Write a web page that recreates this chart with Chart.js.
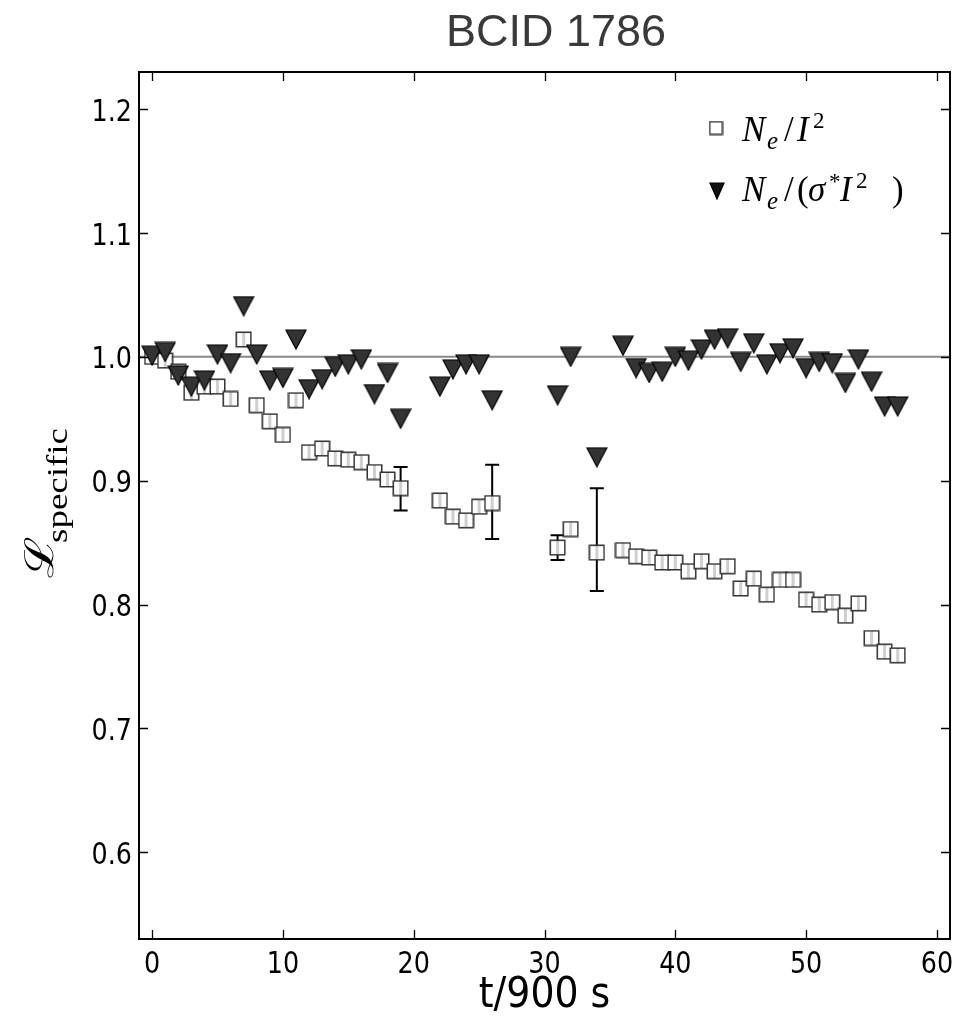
<!DOCTYPE html>
<html>
<head>
<meta charset="utf-8">
<script src="https://cdn.jsdelivr.net/npm/chart.js@4"></script>
<style>
  body { margin: 0; background: #fff; }
  canvas { display: block; }
</style>
</head>
<body>
<canvas id="myChart" width="969" height="1018"></canvas>
<script>
// t/900 s values for both series
const timeSteps = [0,1,2,3,4,5,6,7,8,9,10,11,12,13,14,15,16,17,18,19,22,23,24,25,26,31,32,34,36,37,38,39,40,41,42,43,44,45,46,47,48,49,50,51,52,53,54,55,56,57];

// Ne / I^2
const neOverI2 = [1.000,0.997,0.988,0.971,0.976,0.976,0.966,1.014,0.961,0.948,0.937,0.965,0.923,0.926,0.918,0.917,0.915,0.907,0.901,0.894,
                  0.884,0.871,0.868,0.879,0.882,0.846,0.861,0.842,0.844,0.839,0.838,0.834,0.834,0.827,0.835,0.827,0.831,0.813,0.821,0.808,
                  0.820,0.820,0.804,0.800,0.802,0.791,0.801,0.773,0.762,0.759];

// Ne / (sigma* I^2)
const neOverSigmaI2 = [1.001,1.004,0.985,0.976,0.981,1.002,0.995,1.041,1.002,0.981,0.983,1.014,0.974,0.982,0.992,0.994,0.998,0.970,0.987,0.950,
                       0.976,0.990,0.994,0.994,0.965,0.969,1.000,0.919,1.009,0.991,0.987,0.988,1.000,0.997,1.006,1.014,1.015,0.996,1.011,0.994,
                       1.003,1.007,0.991,0.996,0.995,0.979,0.998,0.980,0.960,0.960];

// error bars on a few of the Ne/I^2 points
const errX = [19, 26, 31, 34];
const errLow = [0.876, 0.853, 0.836, 0.811];
const errHigh = [0.911, 0.913, 0.856, 0.894];

// reference line at 1
const refX = [-1, 61];
const refY = [1.0, 1.0];

const xTicks = [0, 10, 20, 30, 40, 50, 60];
const yTicks = [0.6, 0.7, 0.8, 0.9, 1.0, 1.1, 1.2];

const title = 'BCID 1786';
const xTitle = 't/900 s';

function toPoints(xs, ys) {
    return xs.map((x, i) => ({ x: x, y: ys[i] }));
}

// marker images (matplotlib-like)
function squareMarker(size, stripe) {
    const c = document.createElement('canvas');
    c.width = size + 2; c.height = size + 2;
    const g = c.getContext('2d');
    g.fillStyle = '#fff';
    g.fillRect(1, 1, size, size);
    if (stripe) {
        g.fillStyle = '#cfcfcf';
        g.fillRect(size / 2 - 0.5, 1, 3, size);
    }
    g.strokeStyle = '#333';
    g.lineWidth = 1.5;
    g.strokeRect(1.25, 1.25, size - 0.5, size - 0.5);
    return c;
}

function triangleMarker(w, h, fill) {
    const c = document.createElement('canvas');
    c.width = w + 2; c.height = h + 2;
    const g = c.getContext('2d');
    g.beginPath();
    g.moveTo(1, 1);
    g.lineTo(w + 1, 1);
    g.lineTo(w / 2 + 1, h + 1);
    g.closePath();
    g.fillStyle = fill;
    g.fill();
    g.strokeStyle = '#000';
    g.lineWidth = 1.2;
    g.stroke();
    return c;
}

const sqImg = squareMarker(15, true);
const triImg = triangleMarker(20, 19, '#333');

// legend text pieces, placed like the mathtext of the original
function rich(ctx, y, parts) {
    parts.forEach(p => {
        ctx.font = p.f;
        ctx.fillText(p.t, p.x, y + (p.dy || 0));
    });
}

const extras = {
    id: 'extras',
    beforeDatasetsDraw(chart) {
        const ctx = chart.ctx;
        const xs = chart.scales.x, ys = chart.scales.y;
        ctx.save();
        ctx.strokeStyle = '#000';
        ctx.lineWidth = 2;
        errX.forEach((v, i) => {
            const px = xs.getPixelForValue(v);
            const lo = ys.getPixelForValue(errLow[i]);
            const hi = ys.getPixelForValue(errHigh[i]);
            ctx.beginPath();
            ctx.moveTo(px, lo); ctx.lineTo(px, hi);
            ctx.moveTo(px - 7, lo); ctx.lineTo(px + 7, lo);
            ctx.moveTo(px - 7, hi); ctx.lineTo(px + 7, hi);
            ctx.stroke();
        });
        ctx.restore();
    },
    afterDraw(chart) {
        const ctx = chart.ctx;
        const a = chart.chartArea;
        const xs = chart.scales.x, ys = chart.scales.y;
        ctx.save();

        // spines
        ctx.strokeStyle = '#000';
        ctx.lineWidth = 2;
        ctx.strokeRect(a.left, a.top, a.right - a.left, a.bottom - a.top);

        // inward ticks on all four sides
        ctx.lineWidth = 1.3;
        ctx.beginPath();
        xTicks.forEach(v => {
            const px = Math.round(xs.getPixelForValue(v)) + 0.5;
            ctx.moveTo(px, a.bottom); ctx.lineTo(px, a.bottom - 9);
            ctx.moveTo(px, a.top); ctx.lineTo(px, a.top + 9);
        });
        yTicks.forEach(v => {
            const py = Math.round(ys.getPixelForValue(v)) + 0.5;
            ctx.moveTo(a.left, py); ctx.lineTo(a.left + 9, py);
            ctx.moveTo(a.right, py); ctx.lineTo(a.right - 9, py);
        });
        ctx.stroke();

        // tick labels, slightly condensed like the source figure
        ctx.fillStyle = '#000';
        ctx.font = '31px "DejaVu Sans"';
        ctx.textAlign = 'right';
        ctx.textBaseline = 'alphabetic';
        yTicks.forEach(v => {
            const py = ys.getPixelForValue(v);
            ctx.save();
            ctx.translate(132, py + 11.5);
            ctx.scale(0.82, 1);
            ctx.fillText(v.toFixed(1), 0, 0);
            ctx.restore();
        });
        ctx.textAlign = 'center';
        xTicks.forEach(v => {
            const px = xs.getPixelForValue(v);
            ctx.save();
            ctx.translate(px, 973);
            ctx.scale(0.82, 1);
            ctx.fillText(String(v), 0, 0);
            ctx.restore();
        });

        // x axis title
        ctx.save();
        ctx.font = '42px "DejaVu Sans"';
        ctx.translate((a.left + a.right) / 2, 1007);
        ctx.scale(0.9, 1);
        ctx.fillText(xTitle, 0, 0);
        ctx.restore();

        // y axis title: script L with "specific" subscript
        ctx.save();
        ctx.rotate(-Math.PI / 2);
        ctx.scale(1, 0.8);
        ctx.textAlign = 'left';
        ctx.font = '50px "DejaVu Serif"';
        ctx.fillText('\u2112', -578, 66);
        ctx.font = '37px "Liberation Serif"';
        ctx.fillText('specific', -543, 84);
        ctx.restore();

        // title
        ctx.fillStyle = '#3a3a3a';
        ctx.font = '45px "Liberation Sans"';
        ctx.textAlign = 'center';
        ctx.fillText(title, 556, 46);

        // legend
        ctx.drawImage(squareMarker(13, false), 716 - 7.5, 128 - 7.5);
        ctx.drawImage(triangleMarker(14, 16, '#111'), 717 - 8, 191 - 9);
        ctx.fillStyle = '#000';
        ctx.textAlign = 'left';
        const it = 'italic 35px "Liberation Serif"';
        const rm = '35px "Liberation Serif"';
        const sub = 'italic 25px "Liberation Serif"';
        const sup = '23px "Liberation Serif"';
        rich(ctx, 141, [
            { t: 'N', f: it, x: 742 },
            { t: 'e', f: sub, x: 767, dy: 8 },
            { t: '/', f: rm, x: 784 },
            { t: 'I', f: it, x: 797 },
            { t: '2', f: sup, x: 813, dy: -13 }
        ]);
        rich(ctx, 201, [
            { t: 'N', f: it, x: 742 },
            { t: 'e', f: sub, x: 767, dy: 8 },
            { t: '/', f: rm, x: 784 },
            { t: '(', f: rm, x: 797 },
            { t: '\u03c3', f: it, x: 808 },
            { t: '*', f: sup, x: 829, dy: -12 },
            { t: 'I', f: it, x: 840 },
            { t: '2', f: sup, x: 856, dy: -13 },
            { t: ')', f: rm, x: 892 }
        ]);
        ctx.restore();
    }
};

const ctx = document.getElementById('myChart');

new Chart(ctx, {
    type: 'scatter',
    data: {
        datasets: [
            {
                type: 'line',
                label: 'reference',
                data: toPoints(refX, refY),
                borderColor: '#888',
                borderWidth: 2,
                pointRadius: 0,
                order: 3
            },
            {
                label: 'Ne/I^2',
                data: toPoints(timeSteps, neOverI2),
                pointStyle: sqImg,
                pointRadius: 8,
                order: 2
            },
            {
                label: 'Ne/(sigma* I^2)',
                data: toPoints(timeSteps, neOverSigmaI2),
                pointStyle: triImg,
                pointRadius: 10,
                order: 1
            }
        ]
    },
    options: {
        responsive: false,
        animation: false,
        devicePixelRatio: 1,
        layout: { padding: { top: 72, right: 19, left: 0, bottom: 0 } },
        plugins: {
            legend: { display: false },
            tooltip: { enabled: false }
        },
        scales: {
            x: {
                type: 'linear',
                min: -1,
                max: 61,
                ticks: { stepSize: 10, includeBounds: false, display: false },
                grid: { display: false },
                border: { display: false },
                afterFit: (s) => { s.height = 79; }
            },
            y: {
                type: 'linear',
                min: 0.53,
                max: 1.23,
                ticks: { stepSize: 0.1, includeBounds: false, display: false },
                grid: { display: false },
                border: { display: false },
                afterFit: (s) => { s.width = 139; }
            }
        }
    },
    plugins: [extras]
});
</script>
</body>
</html>
